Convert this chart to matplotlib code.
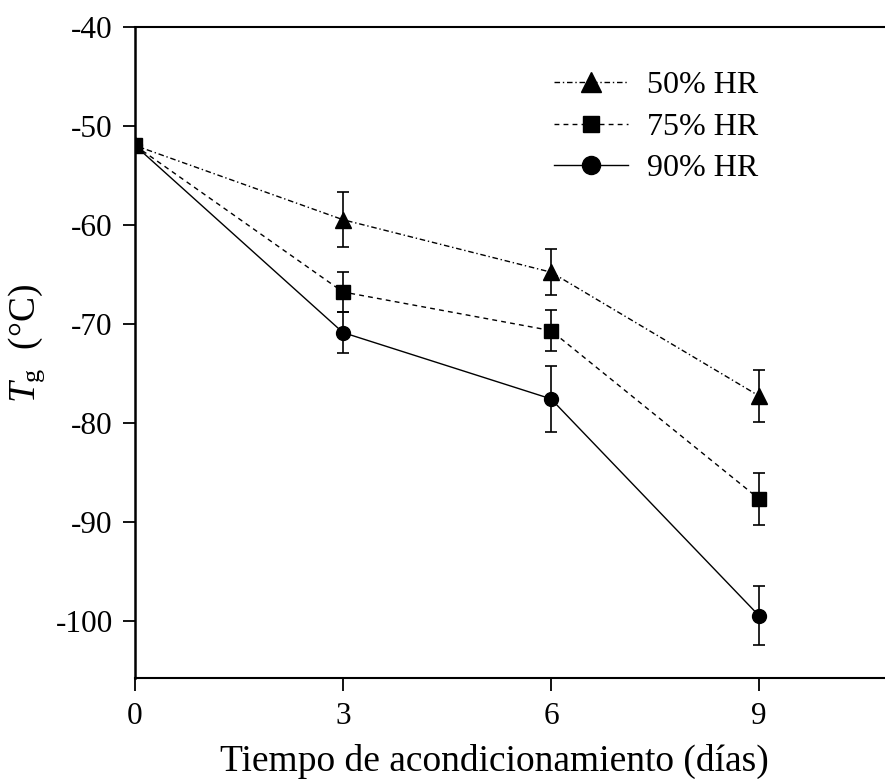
import matplotlib
matplotlib.use("Agg")
import matplotlib.pyplot as plt
from matplotlib.lines import Line2D

plt.rcParams['font.family'] = ['Liberation Serif', 'DejaVu Serif']
plt.rcParams['mathtext.fontset'] = 'custom'
plt.rcParams['mathtext.rm'] = 'Liberation Serif'
plt.rcParams['mathtext.it'] = 'Liberation Serif:italic'

days = [0, 3, 6, 9]
hr50 = [-52.0, -59.5, -64.8, -77.3]
hr50_err = [0.0, 2.8, 2.3, 2.6]
hr75 = [-52.0, -66.8, -70.7, -87.7]
hr75_err = [0.0, 2.0, 2.1, 2.6]
hr90 = [-52.0, -70.9, -77.6, -99.5]
hr90_err = [0.0, 2.1, 3.3, 3.0]
labels = ['50% HR', '75% HR', '90% HR']
xticks = [0, 3, 6, 9]
yticks = [-40, -50, -60, -70, -80, -90, -100]

W, H = 885, 779
fig = plt.figure(figsize=(W / 100, H / 100), dpi=100)
left_px, right_px, top_px, bot_px = 135, 885, 26.7, 678
ax = fig.add_axes([left_px / W, 1 - bot_px / H, (right_px - left_px) / W, (bot_px - top_px) / H])

ls50 = (0, (4, 2, 1, 2))
ls75 = (0, (3.5, 3))
ls90 = '-'
common = dict(color='black', ecolor='black', elinewidth=1.2, capsize=4.5, capthick=1.2, lw=1.0)
ax.errorbar(days, hr90, yerr=hr90_err, marker='o', ms=10, ls=ls90, zorder=3, **common)
ax.errorbar(days, hr75, yerr=hr75_err, marker='s', ms=10, ls=ls75, zorder=4, **common)
ax.errorbar(days, hr50, yerr=hr50_err, marker='^', ms=12, ls=ls50, zorder=5, **common)

ax.set_xlim(0, (right_px - left_px) / 69.33)
ax.set_ylim(-105.8, -40)
ax.set_xticks(xticks)
ax.set_yticks(yticks)
ax.set_xticklabels([str(t) for t in xticks])
ax.set_yticklabels([str(t) for t in yticks])

ax.spines['right'].set_visible(False)
ax.spines['left'].set_linewidth(1.8)
ax.spines['top'].set_linewidth(1.5)
ax.spines['bottom'].set_linewidth(1.5)

ax.tick_params(axis='y', direction='out', length=9, width=1.3, pad=7, labelsize=22.5)
ax.tick_params(axis='x', direction='out', length=9, width=1.3, pad=8, labelsize=22.5)

ax.set_xlabel('Tiempo de acondicionamiento (días)', fontsize=27)
ax.xaxis.set_label_coords(0.479, -0.101)
ax.set_ylabel(r'$T_{\mathrm{g}}$  (°C)', fontsize=27)
ax.yaxis.set_label_coords(-0.117, 0.514)

leg_handles = [
    Line2D([], [], color='black', lw=1.0, ls=ls50, marker='^', ms=15),
    Line2D([], [], color='black', lw=1.0, ls=ls75, marker='s', ms=12),
    Line2D([], [], color='black', lw=1.0, ls=ls90, marker='o', ms=13),
]
ax.legend(leg_handles, labels, loc='upper left', bbox_to_anchor=(0.559, 0.932), frameon=False,
          fontsize=23, handlelength=2.3, handletextpad=0.6, labelspacing=0.38,
          borderpad=0, borderaxespad=0)

fig.savefig('out.png', dpi=100)
